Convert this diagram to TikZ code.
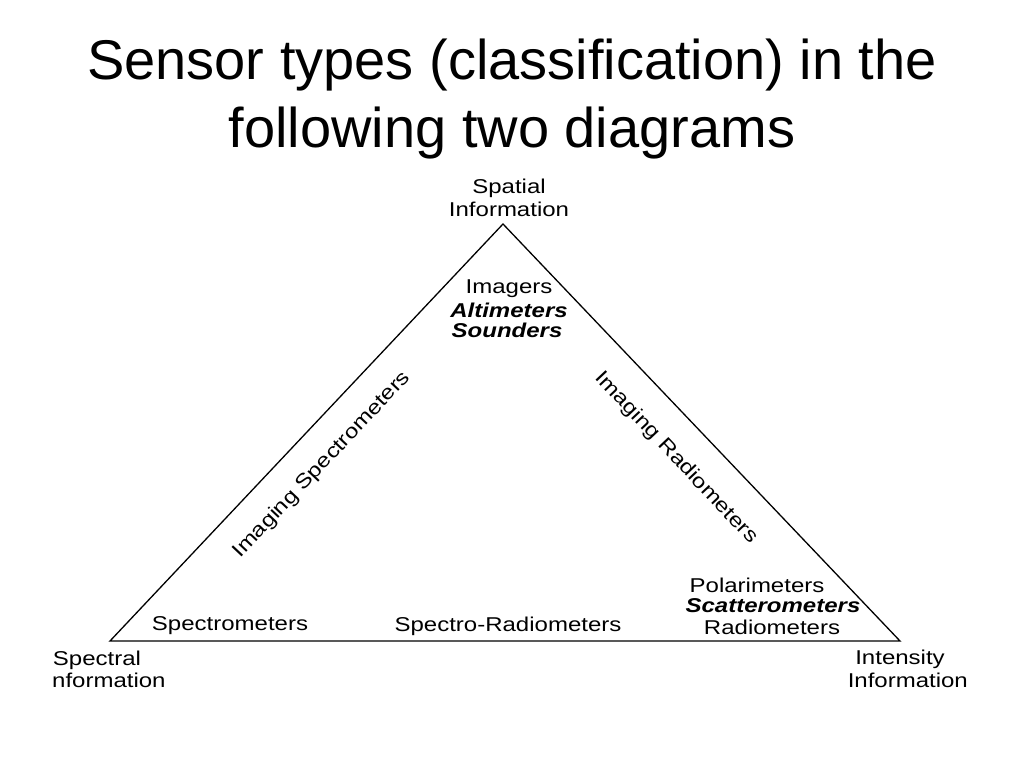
\documentclass[tikz,border=0pt]{standalone}
\usepackage{fontspec}
\setmainfont{Liberation Sans}
\newfontfamily\wide[FakeStretch=1.2]{Liberation Sans}
\begin{document}
\begin{tikzpicture}[x=1pt,y=1pt,
  lab/.style={font=\wide\fontsize{20}{22}\selectfont,inner sep=0pt},
  bi/.style={lab,font=\wide\fontsize{20}{22}\selectfont\bfseries\itshape},
  ttl/.style={font=\fontsize{56}{60}\selectfont,inner sep=0pt}]
\useasboundingbox (0,0) rectangle (1024,768);
\fill[white] (0,0) rectangle (1024,768);
\node[ttl] (t1) at (512,703) {Sensor types (classification) in the};
\node[ttl] (t2) at (512,635) {following two diagrams};
\coordinate (A) at (503,544);
\coordinate (B) at (110,127);
\coordinate (C) at (900,127);
\draw[line width=1.3pt,line join=miter] (A) -- (B) -- (C) -- cycle;
\node[lab] (s1) at (509,580) {Spatial};
\node[lab] (s2) at (509,559) {Information};
\node[lab] (i1) at (509,479) {Imagers};
\node[bi] (i2) at (509,458) {Altimeters};
\node[bi] (i3) at (507,438) {Sounders};
\node[lab,rotate=46.7] (is) at (322,303) {Imaging Spectrometers};
\node[lab,rotate=-46.7] (ir) at (676,310) {Imaging Radiometers};
\node[lab] (p1) at (757,183) {Polarimeters};
\node[bi] (p2) at (773,162) {Scatterometers};
\node[lab] (p3) at (772,141) {Radiometers};
\node[lab] (sp) at (230,142) {Spectrometers};
\node[lab] (sr) at (508,142) {Spectro-Radiometers};
\node[lab] (l1) at (97,108) {Spectral};
\node[lab,anchor=west] (l2) at (52,88) {nformation};
\node[lab] (r1) at (900,109) {Intensity};
\node[lab,anchor=east] (r2) at (968,88) {Information};
\end{tikzpicture}
\end{document}
